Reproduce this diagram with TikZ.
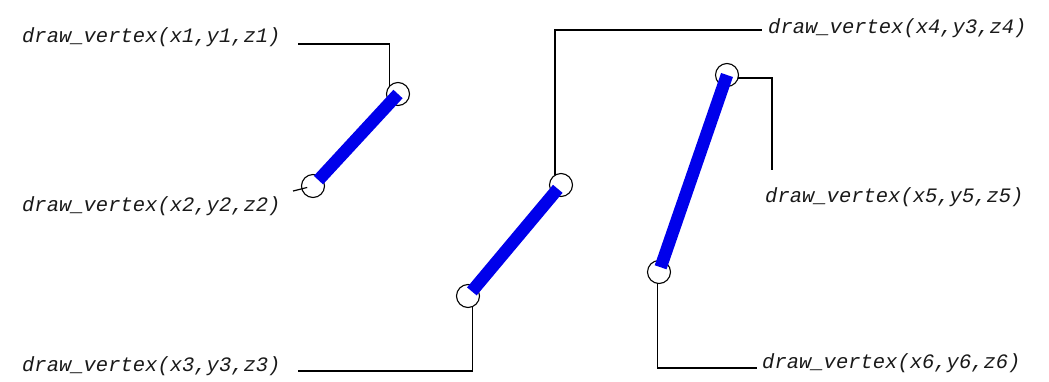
\documentclass[tikz,border=0pt]{standalone}
\usepackage{fontspec}
\setmonofont{Liberation Mono}
\begin{document}
\begin{tikzpicture}[x=1pt,y=-1pt,
  vtx/.style={circle,draw=black,line width=1.1pt,minimum size=23pt,inner sep=0pt,outer sep=0pt},
  lbl/.style={anchor=base west,inner sep=0pt,text=black!90,font=\fontsize{20.5}{24}\selectfont\ttfamily\itshape},
  edgeline/.style={draw={rgb,255:red,0;green,0;blue,235},line width=12.5pt},
  leader/.style={draw=black,line width=1.2pt}]
\useasboundingbox[fill=white] (0,0) rectangle (1049,381);
% vertex circles
\node[vtx] (v1) at (398,94) {};
\node[vtx] (v2) at (313,186) {};
\node[vtx] (v3) at (468,296) {};
\node[vtx] (v4) at (561,185) {};
\node[vtx] (v5) at (727,75) {};
\node[vtx] (v6) at (659,272) {};
% blue segments
\draw[edgeline,shorten >=8pt] (v1.center) -- (v2.center);
\draw[edgeline,shorten <=5pt,shorten >=6pt] (v4.center) -- (v3.center);
\draw[edgeline,shorten >=5pt] (v5.center) -- (v6.center);
% labels
\node[lbl] (l1) at (22,42) {draw\_vertex(x1,y1,z1)};
\node[lbl] (l2) at (22,211) {draw\_vertex(x2,y2,z2)};
\node[lbl] (l3) at (22,371) {draw\_vertex(x3,y3,z3)};
\node[lbl] (l4) at (768,33) {draw\_vertex(x4,y3,z4)};
\node[lbl] (l5) at (765,202) {draw\_vertex(x5,y5,z5)};
\node[lbl] (l6) at (762,368) {draw\_vertex(x6,y6,z6)};
% leader ends
\coordinate (a1) at (298,44);
\coordinate (a2) at (293,191);
\coordinate (a3) at (298,371);
\coordinate (a4) at (762,30);
\coordinate (a5) at (772,170);
\coordinate (a6) at (757,368);
% leaders
\draw[leader] (a1) -| (v1.135);
\draw[leader,shorten >=6pt] (a2) -- (v2.center);
\draw[leader] (v3.295) |- (a3);
\draw[leader] (v4.121) |- (a4);
\draw[leader] (v5.345) -| (a5);
\draw[leader] (v6.262) |- (a6);
\end{tikzpicture}
\end{document}
